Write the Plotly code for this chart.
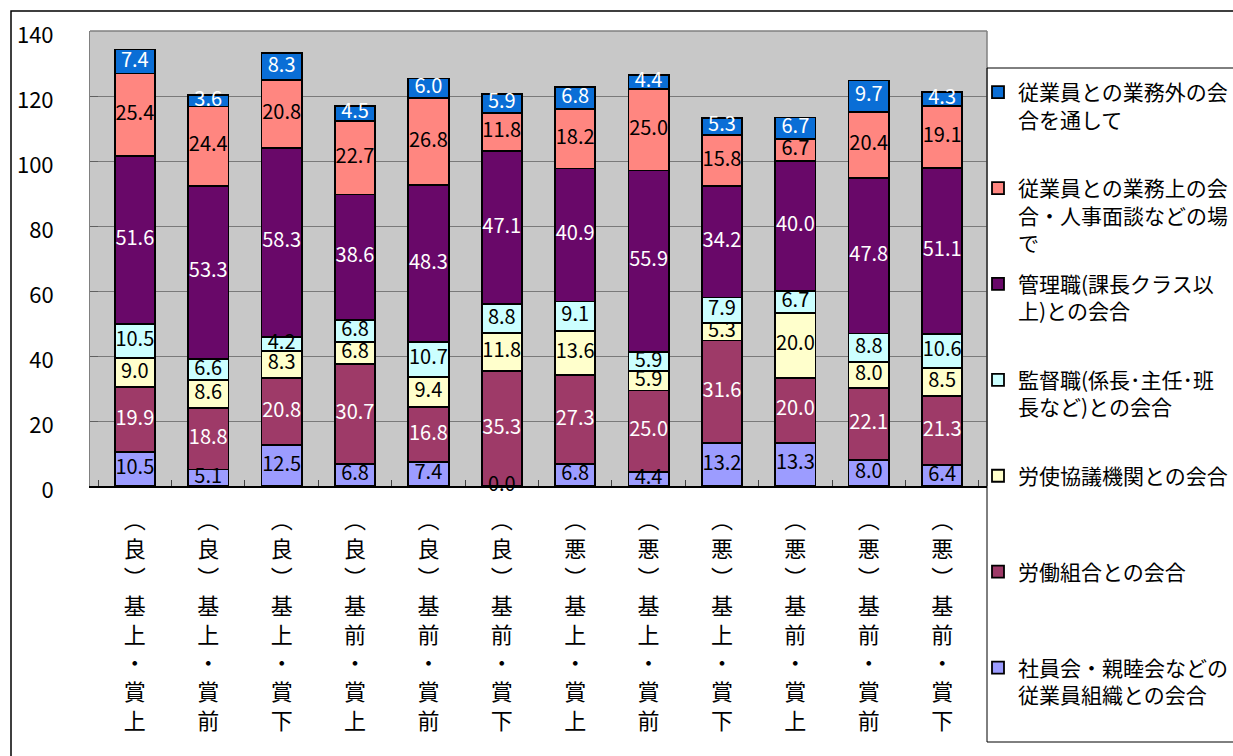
import plotly.graph_objects as go

# Categories: (good/bad) base pay level / bonus level
categories = [
    "(良)基上・賞上", "(良)基上・賞前", "(良)基上・賞下",
    "(良)基前・賞上", "(良)基前・賞前", "(良)基前・賞下",
    "(悪)基上・賞上", "(悪)基上・賞前", "(悪)基上・賞下",
    "(悪)基前・賞上", "(悪)基前・賞前", "(悪)基前・賞下",
]

# Series values, stacked bottom to top
shainkai = [10.5, 5.1, 12.5, 6.8, 7.4, 0.0, 6.8, 4.4, 13.2, 13.3, 8.0, 6.4]
rodo_kumiai = [19.9, 18.8, 20.8, 30.7, 16.8, 35.3, 27.3, 25.0, 31.6, 20.0, 22.1, 21.3]
roshi_kyogi = [9.0, 8.6, 8.3, 6.8, 9.4, 11.8, 13.6, 5.9, 5.3, 20.0, 8.0, 8.5]
kantokushoku = [10.5, 6.6, 4.2, 6.8, 10.7, 8.8, 9.1, 5.9, 7.9, 6.7, 8.8, 10.6]
kanrishoku = [51.6, 53.3, 58.3, 38.6, 48.3, 47.1, 40.9, 55.9, 34.2, 40.0, 47.8, 51.1]
gyomujo = [25.4, 24.4, 20.8, 22.7, 26.8, 11.8, 18.2, 25.0, 15.8, 6.7, 20.4, 19.1]
gyomugai = [7.4, 3.6, 8.3, 4.5, 6.0, 5.9, 6.8, 4.4, 5.3, 6.7, 9.7, 4.3]

series_names = [
    "社員会・親睦会などの<br>従業員組織との会合",
    "労働組合との会合",
    "労使協議機関との会合",
    "監督職(係長･主任･班<br>長など)との会合",
    "管理職(課長クラス以<br>上)との会合",
    "従業員との業務上の会<br>合・人事面談などの場<br>で",
    "従業員との業務外の会<br>合を通して",
]
series_values = [shainkai, rodo_kumiai, roshi_kyogi, kantokushoku, kanrishoku, gyomujo, gyomugai]

y_ticks = [0, 20, 40, 60, 80, 100, 120, 140]

# Styling
colors = ["#9C9CFF", "#9E3A68", "#FFFFCC", "#CCFFFF", "#690869", "#FF8680", "#0A6ED6"]
label_colors = ["black", "white", "black", "black", "white", "black", "white"]
FONT = "Noto Sans CJK JP"

W, H = 1233, 756
L, R, T, B = 90, 987, 31, 486  # plot area in pixels


def px_x(p):
    return (p - L) / (R - L)


def px_y(p):
    return (B - p) / (B - T)


def vertical(label):
    table = {"(": "︵", ")": "︶"}
    return "<br>".join(table.get(ch, ch) for ch in label)


def legend_name(name, lines=3):
    n = name.count("<br>") + 1
    return name + "<br>\u00a0" * (lines - n)


fig = go.Figure()

# stacked bars; legend lists the top segment first
n_series = len(series_names)
for i, (name, vals, col) in enumerate(zip(series_names, series_values, colors)):
    fig.add_trace(go.Bar(
        x=categories, y=vals, name=legend_name(name), legendgroup=f"g{i}",
        legendrank=100 * (n_series - i),
        marker=dict(color=col, line=dict(color="black", width=1.8)),
        hoverinfo="skip",
    ))

# value labels centred in each segment
base = [0.0] * len(categories)
for vals, tc in zip(series_values, label_colors):
    mids = [b + v / 2 for b, v in zip(base, vals)]
    fig.add_trace(go.Scatter(
        x=categories, y=mids, mode="text",
        text=[f"{v:.1f}" for v in vals],
        textfont=dict(family=FONT, size=20, color=tc),
        textposition="middle center",
        showlegend=False, cliponaxis=False, hoverinfo="skip",
    ))
    base = [b + v for b, v in zip(base, vals)]

fig.update_layout(
    width=W, height=H,
    margin=dict(l=L, r=W - R, t=T, b=H - B, autoexpand=False),
    paper_bgcolor="white",
    plot_bgcolor="#C8C8C8",
    barmode="stack",
    bargap=0.45,
    font=dict(family=FONT, color="black"),
    legend=dict(
        x=px_x(978), y=px_y(72), xanchor="left", yanchor="top",
        traceorder="grouped", tracegroupgap=11, maxheight=720,
        valign="top", font=dict(family=FONT, size=21, color="black"),
        bgcolor="rgba(0,0,0,0)", borderwidth=0,
    ),
    xaxis=dict(
        type="category",
        tickvals=categories,
        ticktext=[vertical(c) for c in categories],
        tickfont=dict(family=FONT, size=22, color="black"),
        tickson="boundaries", ticks="inside", ticklen=6, tickcolor="#404040",
        showline=True, linecolor="black", linewidth=2,
        showgrid=False, ticklabelstandoff=14,
    ),
    yaxis=dict(
        range=[0, 140], tickvals=y_ticks,
        tickfont=dict(family=FONT, size=22, color="black"),
        ticks="inside", ticklen=8, tickcolor="#606060",
        showgrid=True, gridcolor="#7A7A7A", gridwidth=1,
        showline=True, linecolor="#808080", linewidth=1,
        ticklabelstandoff=31, ticklabelshift=4, zeroline=False,
    ),
    shapes=[
        # plot area border (top and right)
        dict(type="line", xref="paper", yref="paper", x0=0, x1=1, y0=1, y1=1,
             line=dict(color="#808080", width=1.5)),
        dict(type="line", xref="paper", yref="paper", x0=1, x1=1, y0=0, y1=1,
             line=dict(color="#808080", width=1.5)),
        # legend box
        dict(type="rect", xref="paper", yref="paper",
             x0=px_x(987), x1=px_x(1260), y0=px_y(742), y1=px_y(68),
             line=dict(color="black", width=1)),
        # chart frame
        dict(type="rect", xref="paper", yref="paper",
             x0=px_x(11), x1=px_x(1270), y0=px_y(780), y1=px_y(11),
             line=dict(color="black", width=1.5)),
    ],
)

fig.write_html("out.html")
